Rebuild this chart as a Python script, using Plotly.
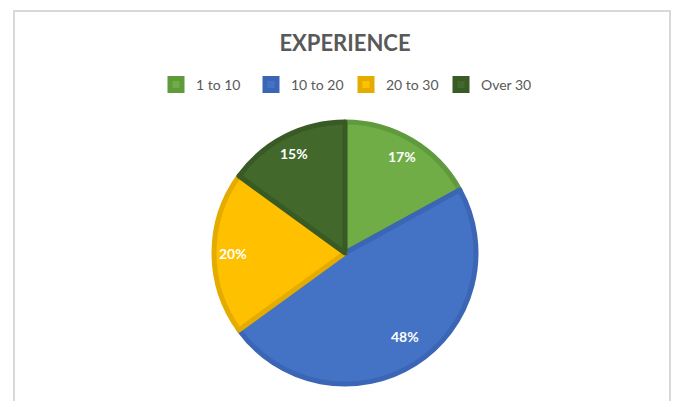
"""Experience pie chart."""

import math

import plotly.graph_objects as go

labels = ["1 to 10", "10 to 20", "20 to 30", "Over 30"]
values = [17, 48, 20, 15]
fill_colors = ["#70AD47", "#4472C4", "#FFC000", "#43682B"]
edge_colors = ["#5F9B3C", "#3B66B6", "#E5AC00", "#385A24"]

W, H = 678, 401
cx, cy, r = 345, 253, 131  # pie centre and radius, in pixels

fig = go.Figure(
    go.Pie(
        labels=labels,
        values=values,
        sort=False,
        direction="clockwise",
        rotation=0,
        marker=dict(colors=fill_colors, line=dict(color=edge_colors, width=5)),
        textinfo="none",
        hoverinfo="label+percent",
        domain=dict(
            x=[(cx - r) / W, (cx + r) / W],
            y=[(H - cy - r) / H, (H - cy + r) / H],
        ),
    )
)

# percentage labels, placed out near the rim like Excel does
total = sum(values)
cum = 0
annotations = []
for v in values:
    mid = 2 * math.pi * (cum + v / 2) / total
    cum += v
    d = 0.84 * (r + 2)
    annotations.append(
        dict(
            x=(cx + d * math.sin(mid)) / W,
            y=1 - (cy - d * math.cos(mid)) / H,
            xref="paper",
            yref="paper",
            text=f"<b>{round(100 * v / total)}%</b>",
            showarrow=False,
            font=dict(family="Lato", size=14, color="white"),
        )
    )

fig.update_layout(
    width=W,
    height=H,
    margin=dict(l=0, r=0, t=0, b=0),
    paper_bgcolor="white",
    font=dict(family="Lato", color="#595959"),
    title=dict(
        text="<b>EXPERIENCE</b>",
        x=345 / W,
        xanchor="center",
        y=1 - 43 / H,
        yanchor="middle",
        font=dict(family="Lato", size=22, color="#595959"),
    ),
    showlegend=True,
    legend=dict(
        orientation="h",
        x=346 / W,
        xanchor="center",
        y=1 - 85 / H,
        yanchor="middle",
        font=dict(size=14, color="#595959"),
        itemwidth=30,
        entrywidth=50,
        entrywidthmode="pixels",
        traceorder="normal",
    ),
    annotations=annotations,
    shapes=[
        dict(
            type="rect",
            xref="paper",
            yref="paper",
            x0=14 / W,
            x1=670 / W,
            y0=-0.2,
            y1=1 - 11 / H,
            line=dict(color="#D9D9D9", width=2),
            layer="below",
        )
    ],
)

fig.write_html(
    "out.html",
    config={"displayModeBar": False},
    post_script=(
        "document.body.style.margin = '0';"
        "document.body.style.overflow = 'hidden';"
        "document.documentElement.style.overflow = 'hidden';"
    ),
)
